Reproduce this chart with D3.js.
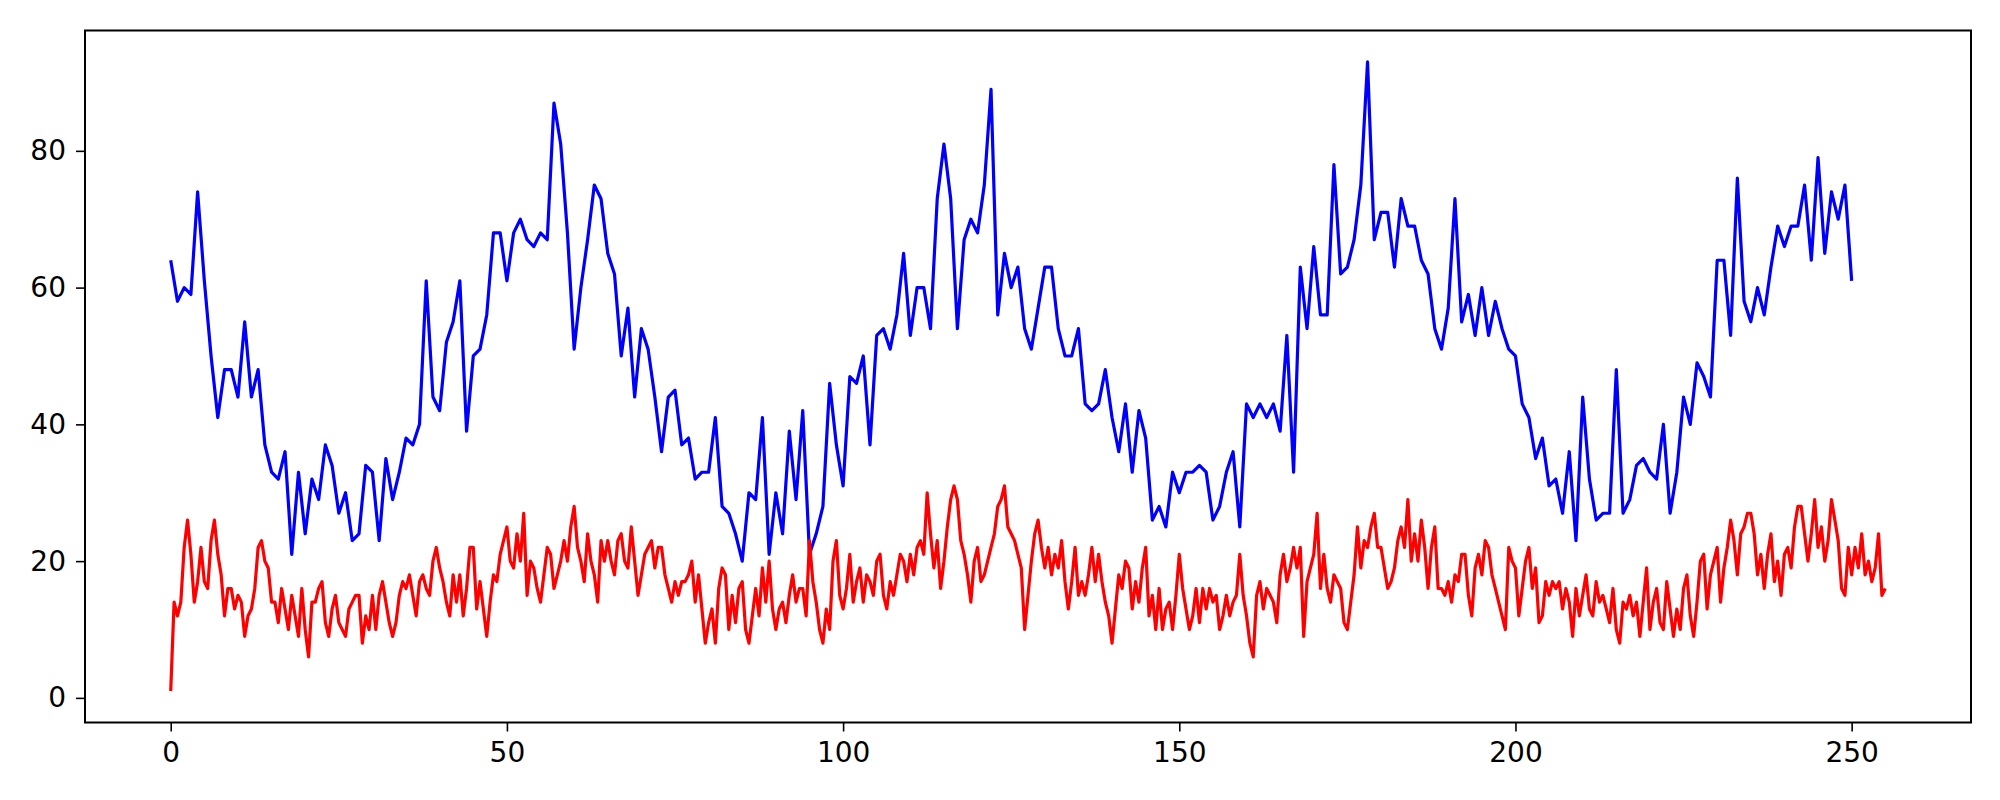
<!DOCTYPE html>
<html>
<head>
<meta charset="utf-8">
<script src="https://cdn.jsdelivr.net/npm/d3@7"></script>
<style>
  body { margin: 0; background: #fff; }
  .tick text { font-family: "DejaVu Sans", sans-serif; fill: #000; }
</style>
</head>
<body>
<svg id="chart" width="2000" height="800"></svg>
<script>
// blue series: one value per step, x = 0..250
const blueValues = [
  64, 58, 60, 59, 74, 61, 50, 41, 48, 48, 44, 55, 44, 48, 37, 33, 32, 36, 21, 33,
  24, 32, 29, 37, 34, 27, 30, 23, 24, 34, 33, 23, 35, 29, 33, 38, 37, 40, 61, 44,
  42, 52, 55, 61, 39, 50, 51, 56, 68, 68, 61, 68, 70, 67, 66, 68, 67, 87, 81, 68,
  51, 60, 67, 75, 73, 65, 62, 50, 57, 44, 54, 51, 44, 36, 44, 45, 37, 38, 32, 33,
  33, 41, 28, 27, 24, 20, 30, 29, 41, 21, 30, 24, 39, 29, 42, 21, 24, 28, 46, 37,
  31, 47, 46, 50, 37, 53, 54, 51, 56, 65, 53, 60, 60, 54, 73, 81, 73, 54, 67, 70,
  68, 75, 89, 56, 65, 60, 63, 54, 51, 57, 63, 63, 54, 50, 50, 54, 43, 42, 43, 48,
  41, 36, 43, 33, 42, 38, 26, 28, 25, 33, 30, 33, 33, 34, 33, 26, 28, 33, 36, 25,
  43, 41, 43, 41, 43, 39, 53, 33, 63, 54, 66, 56, 56, 78, 62, 63, 67, 75, 93, 67,
  71, 71, 63, 73, 69, 69, 64, 62, 54, 51, 57, 73, 55, 59, 53, 60, 53, 58, 54, 51,
  50, 43, 41, 35, 38, 31, 32, 27, 36, 23, 44, 32, 26, 27, 27, 48, 27, 29, 34, 35,
  33, 32, 40, 27, 33, 44, 40, 49, 47, 44, 64, 64, 53, 76, 58, 55, 60, 56, 63, 69,
  66, 69, 69, 75, 64, 79, 65, 74, 70, 75, 61
];

// red series: one value per half step, x = 0..255
const redStep = 0.5;
const redValues = [
  1, 14, 12, 14, 22, 26, 21, 14, 17, 22, 17, 16, 23, 26, 21, 18,
  12, 16, 16, 13, 15, 14, 9, 12, 13, 16, 22, 23, 20, 19, 14, 14,
  11, 16, 13, 10, 15, 12, 9, 16, 10, 6, 14, 14, 16, 17, 11, 9,
  13, 15, 11, 10, 9, 13, 14, 15, 15, 8, 12, 10, 15, 10, 15, 17,
  14, 11, 9, 11, 15, 17, 16, 18, 15, 12, 17, 18, 16, 15, 20, 22,
  19, 17, 14, 12, 18, 14, 18, 12, 16, 22, 22, 13, 17, 13, 9, 14,
  18, 17, 21, 23, 25, 20, 19, 24, 20, 27, 15, 20, 19, 16, 14, 18,
  22, 21, 16, 18, 20, 23, 20, 25, 28, 22, 20, 17, 24, 20, 18, 14,
  23, 20, 23, 20, 18, 23, 24, 20, 19, 25, 20, 15, 18, 21, 22, 23,
  19, 22, 22, 18, 16, 14, 17, 15, 17, 17, 18, 20, 14, 18, 13, 8,
  11, 13, 8, 16, 19, 18, 10, 15, 11, 16, 17, 10, 8, 12, 16, 12,
  19, 14, 20, 13, 10, 13, 14, 11, 15, 18, 14, 16, 16, 12, 23, 17,
  14, 10, 8, 13, 10, 20, 23, 15, 13, 16, 21, 14, 17, 19, 14, 18,
  17, 15, 20, 21, 15, 13, 17, 15, 18, 21, 20, 17, 21, 18, 22, 23,
  21, 30, 24, 19, 23, 16, 20, 25, 29, 31, 29, 23, 21, 18, 14, 20,
  22, 17, 18, 20, 22, 24, 28, 29, 31, 25, 24, 23, 21, 19, 10, 15,
  20, 24, 26, 22, 19, 22, 18, 21, 19, 23, 17, 13, 17, 22, 15, 17,
  15, 18, 22, 17, 21, 17, 14, 12, 8, 13, 18, 16, 20, 19, 13, 17,
  14, 19, 22, 12, 15, 10, 16, 10, 13, 14, 10, 15, 21, 16, 13, 10,
  12, 16, 11, 16, 13, 16, 14, 15, 10, 12, 15, 12, 14, 15, 21, 15,
  12, 8, 6, 15, 17, 13, 16, 15, 14, 11, 18, 21, 17, 19, 22, 19,
  22, 9, 17, 19, 21, 27, 16, 21, 16, 14, 18, 17, 16, 11, 10, 14,
  18, 25, 19, 23, 22, 25, 27, 22, 22, 19, 16, 17, 19, 23, 25, 22,
  29, 20, 24, 20, 26, 22, 16, 22, 25, 16, 16, 15, 17, 14, 18, 17,
  21, 21, 15, 12, 19, 21, 18, 23, 22, 18, 16, 14, 12, 10, 22, 20,
  19, 12, 16, 20, 22, 16, 19, 11, 12, 17, 15, 17, 16, 17, 13, 16,
  14, 9, 16, 12, 15, 18, 13, 12, 17, 14, 15, 13, 11, 16, 10, 8,
  14, 13, 15, 12, 14, 9, 14, 19, 10, 14, 16, 11, 10, 17, 13, 9,
  13, 10, 16, 18, 12, 9, 14, 20, 21, 13, 18, 20, 22, 14, 19, 22,
  26, 23, 18, 24, 25, 27, 27, 24, 18, 21, 16, 21, 24, 17, 20, 15,
  21, 22, 19, 25, 28, 28, 24, 20, 24, 29, 22, 25, 20, 23, 29, 26,
  23, 16, 15, 22, 18, 22, 19, 24, 18, 20, 17, 19, 24, 15, 16
];

const xTicks = [0, 50, 100, 150, 200, 250];
const yTicks = [0, 20, 40, 60, 80];

const svg = d3.select('#chart');
const plot = { left: 85, right: 1971, top: 30.5, bottom: 722.5 };

// matplotlib style 5% margins around the data
const xMax = 255, yMin = 1, yMax = 93;
const xPad = xMax * 0.05, yPad = (yMax - yMin) * 0.05;

const x = d3.scaleLinear()
    .domain([-xPad, xMax + xPad])
    .range([plot.left, plot.right]);
const y = d3.scaleLinear()
    .domain([yMin - yPad, yMax + yPad])
    .range([plot.bottom, plot.top]);

const bluePoints = blueValues.map((v, i) => [i, v]);
const redPoints = redValues.map((v, i) => [i * redStep, v]);

const line = d3.line()
    .x(d => x(d[0]))
    .y(d => y(d[1]));

svg.append('path')
    .datum(bluePoints)
    .attr('fill', 'none')
    .attr('stroke', '#0000ff')
    .attr('stroke-width', 3.2)
    .attr('stroke-linejoin', 'round')
    .attr('d', line);

svg.append('path')
    .datum(redPoints)
    .attr('fill', 'none')
    .attr('stroke', '#ff0000')
    .attr('stroke-width', 3.2)
    .attr('stroke-linejoin', 'round')
    .attr('d', line);

let xAxis = d3.axisBottom(x).tickValues(xTicks).tickSize(9).tickPadding(11);
let yAxis = d3.axisLeft(y).tickValues(yTicks).tickSize(9).tickPadding(10);

svg.append('g')
    .attr('class', 'x-axis')
    .attr('transform', `translate(0, ${plot.bottom})`)
    .call(xAxis);

svg.append('g')
    .attr('class', 'y-axis')
    .attr('transform', `translate(${plot.left}, 0)`)
    .call(yAxis);

svg.selectAll('.domain').remove();
svg.selectAll('.tick line').attr('stroke', '#000').attr('stroke-width', 1.6);
svg.selectAll('.tick text').attr('font-size', 28);
svg.selectAll('g.x-axis, g.y-axis').attr('font-family', 'DejaVu Sans');

// axes frame
svg.append('rect')
    .attr('x', plot.left)
    .attr('y', plot.top)
    .attr('width', plot.right - plot.left)
    .attr('height', plot.bottom - plot.top)
    .attr('fill', 'none')
    .attr('stroke', '#000')
    .attr('stroke-width', 2);
</script>
</body>
</html>
